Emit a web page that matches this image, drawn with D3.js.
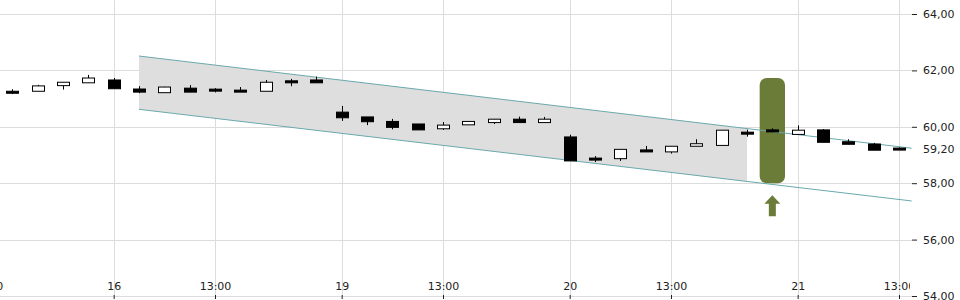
<!DOCTYPE html>
<html>
<head>
<meta charset="utf-8">
<script src="https://cdn.jsdelivr.net/npm/d3@7"></script>
<style>
  html, body { margin: 0; padding: 0; background: #fff; }
  svg { display: block; font-family: "DejaVu Sans", sans-serif; }
</style>
</head>
<body>
<div id="chart"></div>
<script>
// hourly slots, 9:00-17:00 per trading day (index 0 is only partly in view)
const slotLabels = [
  '15 13:00', '15 14:00', '15 15:00', '15 16:00', '15 17:00',
  '16 09:00', '16 10:00', '16 11:00', '16 12:00', '16 13:00', '16 14:00', '16 15:00', '16 16:00', '16 17:00',
  '19 09:00', '19 10:00', '19 11:00', '19 12:00', '19 13:00', '19 14:00', '19 15:00', '19 16:00', '19 17:00',
  '20 09:00', '20 10:00', '20 11:00', '20 12:00', '20 13:00', '20 14:00', '20 15:00', '20 16:00', '20 17:00',
  '21 09:00', '21 10:00', '21 11:00', '21 12:00', '21 13:00'
];

// candles from slot 1 onwards
const opens = [
  61.25, 61.26, 61.46, 61.56, 61.66, 61.34, 61.21, 61.37, 61.31, 61.27, 61.26, 61.62,
  61.66, 60.52, 60.35, 60.19, 60.10, 59.93, 60.07, 60.15, 60.27, 60.15, 59.64, 58.89,
  58.87, 59.18, 59.11, 59.31, 59.34, 59.79, 59.88, 59.73, 59.89, 59.47, 59.39, 59.22
];
const highs = [
  61.33, 61.49, 61.58, 61.84, 61.73, 61.44, 61.42, 61.48, 61.37, 61.41, 61.66, 61.70,
  61.78, 60.74, 60.35, 60.28, 60.10, 60.17, 60.19, 60.27, 60.36, 60.35, 59.72, 58.96,
  59.20, 59.32, 59.31, 59.56, 59.88, 59.90, 59.95, 60.05, 59.92, 59.56, 59.43, 59.27
];
const lows = [
  61.16, 61.26, 61.32, 61.56, 61.35, 61.19, 61.21, 61.23, 61.22, 61.26, 61.26, 61.44,
  61.56, 60.21, 60.06, 59.91, 59.89, 59.89, 60.07, 60.10, 60.15, 60.15, 58.79, 58.75,
  58.79, 59.11, 59.05, 59.31, 59.34, 59.65, 59.83, 59.73, 59.45, 59.38, 59.17, 59.20
];
const closes = [
  61.20, 61.45, 61.58, 61.73, 61.35, 61.23, 61.41, 61.23, 61.29, 61.26, 61.58, 61.57,
  61.56, 60.32, 60.18, 59.98, 59.89, 60.06, 60.19, 60.27, 60.15, 60.27, 58.79, 58.82,
  59.20, 59.11, 59.31, 59.40, 59.88, 59.76, 59.83, 59.88, 59.45, 59.38, 59.17, 59.20
];

// x axis ticks: slot index -> label
const xTickSlots = [0, 5, 9, 14, 18, 23, 27, 32, 36];
const xTickLabels = ['13:00', '16', '13:00', '19', '13:00', '20', '13:00', '21', '13:00'];
const yTicks = [54, 56, 58, 60, 62, 64];

// trend channel: [start slot, end slot], values at the ends
const channelSlots = [6, 36.5];
const channelUpper = [62.51, 59.24];
const channelLower = [60.62, 57.37];
const channelShadeEnd = 30;

// signal marker
const signalSlot = 31;
const signalRange = [58.0, 61.73];

const width = 960;
const height = 300;
const plotRight = 912;
const plotBottom = 296;

const fmt = (v) => d3.format('.2f')(v).replace('.', ',');

const svg = d3.select('#chart')
  .append('svg')
  .attr('width', width)
  .attr('height', height);

const defs = svg.append('defs');
defs.append('clipPath')
  .attr('id', 'plot-clip')
  .append('rect')
  .attr('x', 0).attr('y', 0)
  .attr('width', plotRight).attr('height', height);
defs.append('clipPath')
  .attr('id', 'label-clip')
  .append('rect')
  .attr('x', 0).attr('y', 0)
  .attr('width', plotRight - 2).attr('height', height);

const x = d3.scaleLinear().domain([0, 36]).range([-13, 899]);
const y = d3.scaleLinear().domain([54, 64]).range([plotBottom, 14]);
const slotW = x(1) - x(0);
const bodyW = 12;

const plot = svg.append('g').attr('clip-path', 'url(#plot-clip)');

// grid
plot.append('g')
  .selectAll('line')
  .data(yTicks)
  .enter()
  .append('line')
  .attr('x1', 0).attr('x2', plotRight)
  .attr('y1', (d) => Math.round(y(d)) + 0.5)
  .attr('y2', (d) => Math.round(y(d)) + 0.5)
  .attr('stroke', '#dcdcdc');

plot.append('g')
  .selectAll('line')
  .data(xTickSlots)
  .enter()
  .append('line')
  .attr('x1', (d) => Math.round(x(d)) + 0.5)
  .attr('x2', (d) => Math.round(x(d)) + 0.5)
  .attr('y1', 0).attr('y2', plotBottom)
  .attr('stroke', '#dcdcdc');

// channel shading
const upAt = (s) => d3.interpolateNumber(channelUpper[0], channelUpper[1])((s - channelSlots[0]) / (channelSlots[1] - channelSlots[0]));
const loAt = (s) => d3.interpolateNumber(channelLower[0], channelLower[1])((s - channelSlots[0]) / (channelSlots[1] - channelSlots[0]));

plot.append('path')
  .attr('d', d3.line()([
    [x(channelSlots[0]), y(upAt(channelSlots[0]))],
    [x(channelShadeEnd), y(upAt(channelShadeEnd))],
    [x(channelShadeEnd), y(loAt(channelShadeEnd))],
    [x(channelSlots[0]), y(loAt(channelSlots[0]))],
  ]) + 'Z')
  .attr('fill', '#dedede');

// signal highlight
const sigTop = y(signalRange[1]);
const sigBottom = y(signalRange[0]);
plot.append('rect')
  .attr('x', x(signalSlot) - slotW / 2)
  .attr('y', sigTop)
  .attr('width', slotW)
  .attr('height', sigBottom - sigTop)
  .attr('rx', 7)
  .attr('fill', '#6a7c38');

const ax = x(signalSlot);
const at = sigBottom + 12;
plot.append('path')
  .attr('d', d3.line()([
    [ax, at], [ax + 8, at + 8.5], [ax + 3.5, at + 8.5], [ax + 3.5, at + 21],
    [ax - 3.5, at + 21], [ax - 3.5, at + 8.5], [ax - 8, at + 8.5],
  ]) + 'Z')
  .attr('fill', '#6a7c38');

// channel lines
[[channelUpper], [channelLower]].forEach(([vals]) => {
  plot.append('line')
    .attr('x1', x(channelSlots[0])).attr('y1', y(vals[0]))
    .attr('x2', x(channelSlots[1])).attr('y2', y(vals[1]))
    .attr('stroke', '#6aa9ad')
    .attr('stroke-width', 1);
});

// candles
const candles = opens.map((o, i) => ({
  slot: i + 1, open: o, high: highs[i], low: lows[i], close: closes[i],
}));

const cg = plot.selectAll('.candle')
  .data(candles)
  .enter()
  .append('g')
  .attr('class', 'candle');

cg.append('line')
  .attr('x1', (d) => Math.round(x(d.slot)) + 0.5)
  .attr('x2', (d) => Math.round(x(d.slot)) + 0.5)
  .attr('y1', (d) => y(d.high))
  .attr('y2', (d) => y(d.low))
  .attr('stroke', '#000');

cg.append('rect')
  .attr('x', (d) => Math.round(x(d.slot) - bodyW / 2) + 0.5)
  .attr('y', (d) => {
    const top = y(Math.max(d.open, d.close));
    const h = Math.abs(y(d.open) - y(d.close));
    return h < 2 ? top - (2 - h) / 2 : top;
  })
  .attr('width', bodyW)
  .attr('height', (d) => Math.max(2, Math.abs(y(d.open) - y(d.close))))
  .attr('fill', (d) => (d.close >= d.open ? '#fff' : '#000'))
  .attr('stroke', '#000')
  .attr('stroke-width', 1);

// x axis (labels clipped at the plot edge)
const xAxis = svg.append('g')
  .attr('clip-path', 'url(#label-clip)')
  .append('g')
  .attr('transform', `translate(0,${plotBottom - 1})`)
  .call(
    d3.axisBottom(x)
      .tickValues(xTickSlots)
      .tickFormat((d, i) => xTickLabels[i])
      .tickSize(4)
  );
xAxis.select('.domain').remove();
xAxis.selectAll('.tick line').attr('stroke', '#222');
xAxis.selectAll('.tick text')
  .attr('y', -13)
  .attr('fill', '#222')
  .style('font-size', '11px')
  .style('font-family', '"DejaVu Sans", sans-serif');

// y axis on the right
const yAxis = svg.append('g')
  .attr('transform', `translate(${plotRight},0)`)
  .call(
    d3.axisRight(y)
      .tickValues(yTicks)
      .tickFormat(fmt)
      .tickSize(5)
      .tickPadding(6)
  );
yAxis.select('.domain').remove();
yAxis.selectAll('.tick line').attr('stroke', '#222');
yAxis.selectAll('.tick text')
  .attr('fill', '#222')
  .style('font-size', '11px')
  .style('font-family', '"DejaVu Sans", sans-serif');

// last price label
const lastClose = closes[closes.length - 1];
svg.append('text')
  .attr('x', plotRight + 11)
  .attr('y', y(lastClose))
  .attr('dy', '0.32em')
  .attr('fill', '#222')
  .style('font-size', '11px')
  .text(fmt(lastClose));
</script>
</body>
</html>
